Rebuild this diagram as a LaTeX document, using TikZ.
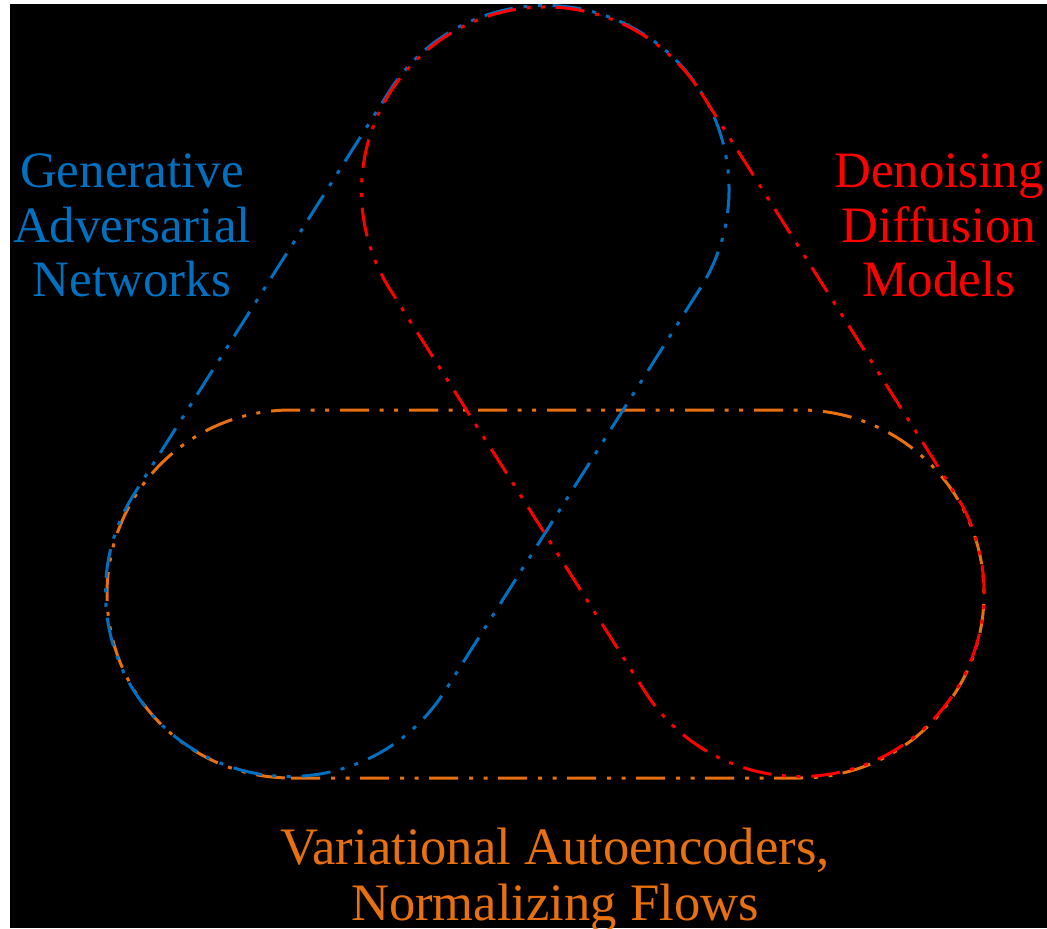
\documentclass[tikz,border=0pt]{standalone}
\usepackage{fontspec}
\setmainfont{Liberation Serif}
\usetikzlibrary{calc}
\definecolor{ganblue}{RGB}{0,112,192}
\definecolor{ddmred}{RGB}{255,0,0}
\definecolor{vaeorange}{RGB}{232,112,14}

\tikzset{
  loopline/.style={line width=1.5pt,
    dash pattern=on 14.5pt off 5.5pt on 2pt off 5.25pt on 2pt off 5.25pt},
  lbl/.style={align=center, font=\fontsize{25.5}{27.5}\selectfont, inner sep=0pt},
}

\begin{document}
\begin{tikzpicture}[x=0.5pt,y=0.5pt]
% page and dark panel
\fill[white] (0,0) rectangle (1047,928);
\fill[black] (10,0) rectangle (1047,924);
\useasboundingbox (0,0) rectangle (1047,928);

\def\rad{184}
% lobe centres
\coordinate (L) at (291,334);
\coordinate (R) at (800,334);
\coordinate (T) at (545.5,737);
\coordinate (Lb) at (289.5,335.5);
\coordinate (Tb) at (545,738.5);
\coordinate (Rr) at (800,335.5);

% VAE / flows loop (horizontal)
\draw[loopline, vaeorange]
  ($(L)+(0,-\rad)$) -- ($(R)+(0,-\rad)$)
  arc[start angle=-90, end angle=90, radius=\rad]
  -- ($(L)+(0,\rad)$)
  arc[start angle=90, end angle=270, radius=\rad] -- cycle;

% GAN loop (top to lower left)
\draw[loopline, ganblue]
  let \p1=($(Lb)-(Tb)$), \n1={atan2(\y1,\x1)} in
  ($(Tb)+(\n1+90:\rad)$) -- ($(Lb)+(\n1+90:\rad)$)
  arc[start angle=\n1+90, end angle=\n1-90, radius=\rad]
  -- ($(Tb)+(\n1-90:\rad)$)
  arc[start angle=\n1-90, end angle=\n1-270, radius=\rad] -- cycle;

% diffusion loop (top to lower right)
\draw[loopline, ddmred]
  let \p1=($(Rr)-(T)$), \n1={atan2(\y1,\x1)} in
  ($(T)+(\n1+90:\rad)$) -- ($(Rr)+(\n1+90:\rad)$)
  arc[start angle=\n1+90, end angle=\n1-90, radius=\rad]
  -- ($(T)+(\n1-90:\rad)$)
  arc[start angle=\n1-90, end angle=\n1-270, radius=\rad] -- cycle;

% labels (base anchor sits on the last line)
\node[lbl, text=ganblue, anchor=base] (gan) at (132,631)
  {Generative\\Adversarial\\Networks};
\node[lbl, text=ddmred, anchor=base] (ddm) at (939,631)
  {Denoising\\Diffusion\\Models};
\node[lbl, text=vaeorange, anchor=base, font=\fontsize{26.3}{28}\selectfont] (vae) at (555,8)
  {Variational Autoencoders,\\Normalizing Flows};
\end{tikzpicture}
\end{document}
